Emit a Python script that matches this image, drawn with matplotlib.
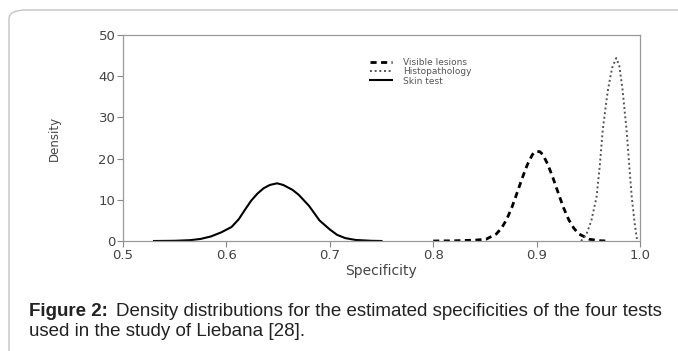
import numpy as np
import matplotlib.pyplot as plt
from matplotlib.patches import FancyBboxPatch

# Skin test density (solid)
skin_x = [0.53, 0.55, 0.565, 0.575, 0.585, 0.595, 0.605, 0.612, 0.618, 0.624, 0.63, 0.636,
          0.642, 0.649, 0.655, 0.664, 0.67, 0.68, 0.69, 0.70, 0.707, 0.715, 0.725, 0.74, 0.75]
skin_y = [0.0, 0.05, 0.2, 0.5, 1.1, 2.1, 3.4, 5.3, 7.6, 9.8, 11.5, 12.8,
          13.6, 14.0, 13.6, 12.4, 11.2, 8.5, 5.0, 2.8, 1.5, 0.7, 0.25, 0.05, 0.0]

# Visible lesions density (dashed)
vis_x = [0.80, 0.82, 0.84, 0.851, 0.861, 0.866, 0.871, 0.876, 0.881, 0.886, 0.891, 0.896,
         0.899, 0.903, 0.906, 0.911, 0.916, 0.921, 0.926, 0.931, 0.936, 0.941, 0.951, 0.961, 0.97]
vis_y = [0.0, 0.05, 0.2, 0.42, 1.7, 3.1, 5.2, 8.1, 11.6, 15.2, 18.5, 21.0,
         21.7, 21.7, 21.0, 18.5, 15.2, 11.6, 8.1, 5.2, 3.1, 1.7, 0.42, 0.07, 0.0]

# Histopathology density (dotted)
hist_x = [0.943, 0.948, 0.953, 0.958, 0.961, 0.964, 0.967, 0.969, 0.973, 0.977,
          0.980, 0.983, 0.987, 0.990, 0.992, 0.995, 0.997]
hist_y = [0.0, 1.5, 5.0, 10.7, 18.0, 27.0, 33.0, 36.7, 42.0, 44.4,
          42.5, 37.0, 27.0, 17.0, 10.7, 4.0, 0.5]

x_ticks = [0.5, 0.6, 0.7, 0.8, 0.9, 1.0]
y_ticks = [0, 10, 20, 30, 40, 50]

W, H = 678, 351
fig = plt.figure(figsize=(W / 100, H / 100), dpi=100)

# rounded page frame (only top and left edges fall inside the image)
frame = FancyBboxPatch((9 / W, -0.2), 1.2, 1.2 - 10 / H,
                       boxstyle="round,pad=0,rounding_size=0.025",
                       transform=fig.transFigure, fill=False,
                       edgecolor='#c4c4c4', linewidth=1.0)
fig.patches.append(frame)

ax = fig.add_axes([123 / W, 110 / H, 517 / W, 206 / H])
ax.plot(vis_x, vis_y, color='black', linestyle=(0, (2.2, 1.6)), linewidth=2.0, label='Visible lesions')
ax.plot(hist_x, hist_y, color='#555555', linestyle=(0, (1, 1.4)), linewidth=1.4, label='Histopathology')
ax.plot(skin_x, skin_y, color='black', linestyle='-', linewidth=1.5, label='Skin test')

ax.set_xlim(0.5, 1.0)
ax.set_ylim(0, 50)
ax.set_xticks(x_ticks)
ax.set_xticklabels(['%.1f' % v for v in x_ticks], fontsize=9.5, color='#444444')
ax.set_yticks(y_ticks)
ax.set_yticklabels([str(v) for v in y_ticks], fontsize=9.5, color='#444444')
ax.tick_params(length=4, width=0.8, color='#888888', pad=1.5)
for s in ax.spines.values():
    s.set_color('#999999')
    s.set_linewidth(0.9)

fig.text(381 / W, 1 - 271 / H, 'Specificity', fontsize=10, color='#444444',
         ha='center', va='center')
fig.text(54 / W, 1 - 138 / H, 'Density', fontsize=8.5, color='#444444',
         rotation=90, ha='center', va='center')

leg = ax.legend(loc='upper left', bbox_to_anchor=(0.478, 0.89), frameon=False,
                fontsize=6.5, handlelength=2.4, handletextpad=1.25, labelspacing=0.05,
                borderpad=0, borderaxespad=0)
for t in leg.get_texts():
    t.set_color('#555555')

cap_font = 'Liberation Sans'
cap_size = 13.5
r = fig.canvas.get_renderer()
t1 = fig.text(29 / W, 1 - 312 / H, 'Figure 2:', fontsize=cap_size, fontweight='bold',
              family=cap_font, va='center', color='#222222')
bb = t1.get_window_extent(r)
fig.text((bb.x1 + 8) / W, 1 - 312 / H,
         'Density distributions for the estimated specificities of the four tests',
         fontsize=cap_size, family=cap_font, va='center', color='#222222')
fig.text(29 / W, 1 - 331 / H, 'used in the study of Liebana [28].',
         fontsize=cap_size, family=cap_font, va='center', color='#222222')

fig.savefig('out.png', dpi=100)
